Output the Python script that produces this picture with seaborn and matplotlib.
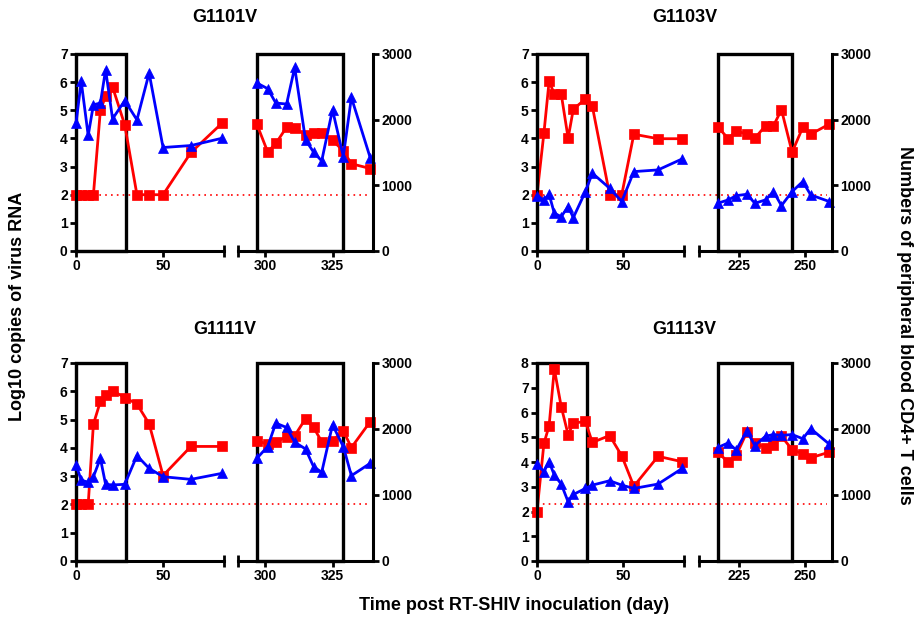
import matplotlib
matplotlib.use("Agg")
import matplotlib.pyplot as plt
from matplotlib.patches import Rectangle
import seaborn as sns

# sampling days: early phase / late phase
days_early_a = [0, 3, 7, 10, 14, 17, 21, 28, 35, 42, 50, 66, 84]
days_late_a = [297, 301, 304, 308, 311, 315, 318, 321, 325, 329, 332, 339]
days_early_b = [0, 4, 7, 10, 14, 18, 21, 28, 32, 42, 49, 56, 70, 84]
days_late_b = [217, 221, 224, 228, 231, 235, 238, 241, 245, 249, 252, 259]

# G1101V
g1101v_rna_early = [2, 2, 2, 2, 5.0, 5.5, 5.83, 4.48, 2, 2, 2, 3.5, 4.55]
g1101v_cd4_early = [1947, 2583, 1759, 2227, 2253, 2760, 2013, 2290, 1997, 2710, 1576, 1606, 1718]
g1101v_rna_late = [4.5, 3.52, 3.82, 4.4, 4.37, 4.13, 4.2, 4.21, 3.93, 3.56, 3.1, 2.93]
g1101v_cd4_late = [2558, 2472, 2253, 2238, 2796, 1693, 1505, 1372, 2150, 1439, 2338, 1416]

# G1103V
g1103v_rna_early = [2, 4.19, 6.03, 5.58, 5.58, 4.01, 5.04, 5.40, 5.14, 2.0, 2.0, 4.15, 3.99, 3.99]
g1103v_cd4_early = [843, 777, 864, 575, 523, 676, 508, 905, 1185, 956, 753, 1209, 1235, 1403]
g1103v_rna_late = [4.42, 3.99, 4.27, 4.15, 4.01, 4.45, 4.45, 5.02, 3.51, 4.39, 4.15, 4.51]
g1103v_cd4_late = [727, 778, 843, 864, 727, 778, 905, 691, 905, 1057, 854, 753]

# G1111V
g1111v_rna_early = [2, 2, 2, 4.84, 5.64, 5.88, 6.02, 5.78, 5.55, 4.85, 3.02, 4.05, 4.05]
g1111v_cd4_early = [1455, 1227, 1192, 1277, 1556, 1162, 1152, 1162, 1596, 1404, 1277, 1237, 1329]
g1111v_rna_late = [4.25, 4.13, 4.2, 4.40, 4.43, 5.03, 4.72, 4.22, 4.25, 4.60, 4.01, 4.93]
g1111v_cd4_late = [1556, 1734, 2089, 2023, 1800, 1698, 1429, 1344, 2063, 1734, 1293, 1481]

# G1113V
g1113v_rna_early = [2, 4.75, 5.46, 7.76, 6.24, 5.10, 5.57, 5.64, 4.79, 5.07, 4.25, 3.02, 4.23, 4.01]
g1113v_cd4_early = [1470, 1353, 1505, 1302, 1166, 897, 1008, 1099, 1150, 1216, 1150, 1099, 1166, 1403]
g1113v_rna_late = [4.40, 3.99, 4.27, 5.21, 4.77, 4.58, 4.70, 5.04, 4.50, 4.33, 4.17, 4.40]
g1113v_cd4_late = [1718, 1790, 1680, 1972, 1750, 1890, 1916, 1903, 1916, 1853, 2005, 1770]

panel_names = ["G1101V", "G1103V", "G1111V", "G1113V"]
detection_limit = [2.0, 2.0, 2.0, 2.3]
rna_max = [7, 7, 7, 8]
late_range = [(290, 340), (210, 260), (290, 340), (210, 260)]
late_ticks = [[300, 325], [225, 250], [300, 325], [225, 250]]
# boxed windows (early, late)
boxes = [((0, 29), (297, 329)), ((0, 29), (217, 245)),
         ((0, 29), (297, 329)), ((0, 29), (217, 245))]

panels = [
    (days_early_a, g1101v_rna_early, g1101v_cd4_early, days_late_a, g1101v_rna_late, g1101v_cd4_late),
    (days_early_b, g1103v_rna_early, g1103v_cd4_early, days_late_b, g1103v_rna_late, g1103v_cd4_late),
    (days_early_a, g1111v_rna_early, g1111v_cd4_early, days_late_a, g1111v_rna_late, g1111v_cd4_late),
    (days_early_b, g1113v_rna_early, g1113v_cd4_early, days_late_b, g1113v_rna_late, g1113v_cd4_late),
]

RED = "#ff0000"
BLUE = "#0000ff"

sns.set_style("ticks")
plt.rcParams["font.family"] = ["Liberation Sans", "DejaVu Sans"]
plt.rcParams["font.weight"] = "bold"
plt.rcParams["axes.edgecolor"] = "black"
plt.rcParams["xtick.color"] = "black"
plt.rcParams["ytick.color"] = "black"
plt.rcParams["text.color"] = "black"

W, H = 917, 626
fig = plt.figure(figsize=(W / 100, H / 100), dpi=100)


def px_axes(x0, x1, y0, y1):
    return fig.add_axes([x0 / W, 1 - y1 / H, (x1 - x0) / W, (y1 - y0) / H])


col_x = [((76, 224), (238, 373)), ((537, 684), (699, 832))]
row_y = [(54, 251), (363, 561)]
title_y = [18, 330]


def draw_series(ax, ax2, days, rna, cd4):
    sns.lineplot(x=days, y=rna, ax=ax, color=RED, marker="s", markersize=6.5,
                 markeredgecolor=RED, markeredgewidth=0.5, linewidth=2,
                 estimator=None, sort=False, clip_on=False)
    sns.lineplot(x=days, y=cd4, ax=ax2, color=BLUE, marker="^", markersize=7.5,
                 markeredgecolor=BLUE, markeredgewidth=0.5, linewidth=2,
                 estimator=None, sort=False, clip_on=False)


def style_ticks(a):
    a.tick_params(axis="both", which="major", width=2, length=4, direction="out",
                  labelsize=10, pad=2, colors="black")
    a.tick_params(axis="x", which="minor", width=2, length=9, direction="inout",
                  colors="black")
    for s in a.spines.values():
        s.set_linewidth(2.2)
        s.set_color("black")


for i, (name, data) in enumerate(zip(panel_names, panels)):
    r, c = divmod(i, 2)
    (ex0, ex1), (lx0, lx1) = col_x[c]
    y0, y1 = row_y[r]
    d_e, rna_e, cd4_e, d_l, rna_l, cd4_l = data
    ymax = rna_max[i]

    # early segment
    ax = px_axes(ex0, ex1, y0, y1)
    ax2 = ax.twinx()
    draw_series(ax, ax2, d_e, rna_e, cd4_e)
    ax.set_xlim(0, 85)
    ax.set_ylim(0, ymax)
    ax2.set_ylim(0, 3000)
    ax.set_xticks([0, 50])
    ax.set_xticks([85], minor=True)
    ax.set_yticks(range(0, ymax + 1))
    ax.spines["top"].set_visible(False)
    ax.spines["right"].set_visible(False)
    for s in ax2.spines.values():
        s.set_visible(False)
    ax2.set_yticks([])
    ax.set_xlabel("")
    ax.set_ylabel("")
    ax2.set_ylabel("")
    style_ticks(ax)
    bx0, bx1 = boxes[i][0]
    ax.add_patch(Rectangle((bx0, 0), bx1 - bx0, ymax, fill=False, ec="black",
                           lw=2.4, clip_on=False, zorder=1))
    ax.axhline(detection_limit[i], xmin=0, xmax=1.05, color=RED, lw=1.2,
               ls=(0, (1, 2.5)), clip_on=False, zorder=0.5)

    # late segment
    bx = px_axes(lx0, lx1, y0, y1)
    bx2 = bx.twinx()
    draw_series(bx, bx2, d_l, rna_l, cd4_l)
    bx.set_xlim(*late_range[i])
    bx.set_ylim(0, ymax)
    bx2.set_ylim(0, 3000)
    bx.set_xticks(late_ticks[i])
    bx.set_xticks([late_range[i][0]], minor=True)
    bx2.set_yticks([0, 1000, 2000, 3000])
    bx.tick_params(axis="y", left=False, labelleft=False)
    for k in ["top", "right", "left"]:
        bx.spines[k].set_visible(False)
    for k in ["top", "left", "bottom"]:
        bx2.spines[k].set_visible(False)
    bx.set_xlabel("")
    bx.set_ylabel("")
    bx2.set_ylabel("")
    style_ticks(bx)
    style_ticks(bx2)
    bx0, bx1 = boxes[i][1]
    bx.add_patch(Rectangle((bx0, 0), bx1 - bx0, ymax, fill=False, ec="black",
                           lw=2.4, clip_on=False, zorder=1))
    bx.axhline(detection_limit[i], xmin=-0.05, xmax=0.96, color=RED, lw=1.2,
               ls=(0, (1, 2.5)), clip_on=False, zorder=0.5)

    fig.text(((ex0 + lx1) / 2) / W, 1 - title_y[r] / H, name, ha="center",
             va="center", fontsize=13, fontweight="bold")

fig.text(18 / W, 1 - 306 / H, "Log10 copies of virus RNA", rotation=90,
         ha="center", va="center", fontsize=13, fontweight="bold")
fig.text(905 / W, 1 - 325 / H, "Numbers of peripheral blood CD4+ T cells",
         rotation=270, ha="center", va="center", fontsize=13, fontweight="bold")
fig.text(514 / W, 1 - 606 / H, "Time post RT-SHIV inoculation (day)",
         ha="center", va="center", fontsize=13, fontweight="bold")

fig.savefig("out.png", dpi=100)
plt.close(fig)
